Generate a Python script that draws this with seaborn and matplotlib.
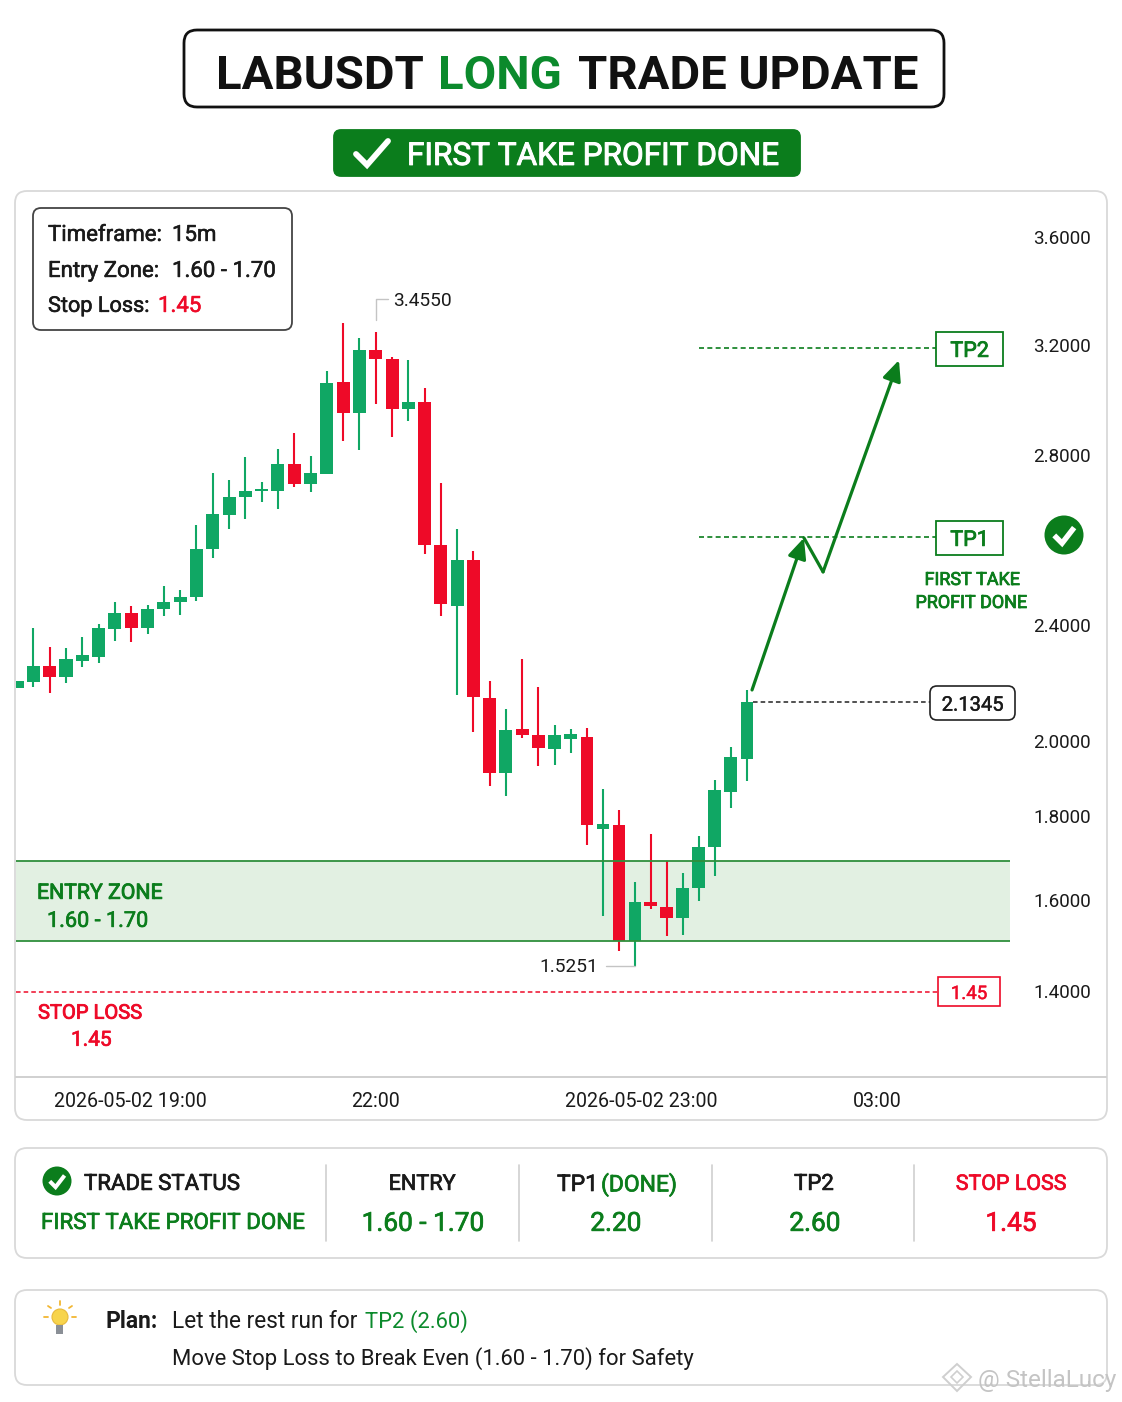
import numpy as np
import pandas as pd
import seaborn as sns
import matplotlib.pyplot as plt
import matplotlib.patheffects as pe
from matplotlib.patches import FancyBboxPatch, Circle, Rectangle, Polygon
from matplotlib.transforms import ScaledTranslation

# candles, one per slot
opens = [2.184, 2.203, 2.259, 2.222, 2.276, 2.291, 2.386, 2.428, 2.389, 2.438, 2.453, 2.465,
         2.579, 2.659, 2.702, 2.715, 2.715, 2.778, 2.732, 2.756, 3.065, 2.953, 3.183, 3.149,
         2.966, 2.993, 2.588, 2.445, 2.552, 2.149, 1.914, 2.042, 2.022, 1.979, 2.008, 2.014,
         1.770, 1.778, 1.510, 1.596, 1.585, 1.560, 1.628, 1.726, 1.864, 1.953]
closes = [2.208, 2.259, 2.222, 2.283, 2.296, 2.390, 2.428, 2.389, 2.438, 2.455, 2.467, 2.579,
          2.660, 2.701, 2.715, 2.720, 2.778, 2.732, 2.757, 3.063, 2.953, 3.183, 3.149, 2.967,
          2.994, 2.589, 2.449, 2.552, 2.150, 1.914, 2.039, 2.021, 1.981, 2.022, 2.023, 1.779,
          1.782, 1.510, 1.595, 1.586, 1.560, 1.628, 1.726, 1.869, 1.956, 2.134]
highs = [2.208, 2.389, 2.325, 2.322, 2.358, 2.402, 2.455, 2.445, 2.447, 2.492, 2.482, 2.635,
         2.758, 2.740, 2.796, 2.737, 2.821, 2.879, 2.798, 3.107, 3.280, 3.227, 3.249, 3.157,
         3.144, 3.045, 2.735, 2.625, 2.574, 2.207, 2.110, 2.284, 2.186, 2.055, 2.040, 2.045,
         1.871, 1.815, 1.642, 1.757, 1.692, 1.665, 1.752, 1.897, 1.983, 2.176]
lows = [2.184, 2.187, 2.167, 2.201, 2.254, 2.268, 2.345, 2.342, 2.368, 2.420, 2.424, 2.456,
        2.558, 2.626, 2.650, 2.690, 2.673, 2.725, 2.712, 2.755, 2.851, 2.818, 2.985, 2.864,
        2.925, 2.568, 2.422, 2.160, 2.031, 1.879, 1.854, 2.011, 1.932, 1.935, 1.968, 1.731,
        1.564, 1.488, 1.455, 1.580, 1.520, 1.524, 1.597, 1.658, 1.822, 1.893]

# axis labels and where the picture puts them (the axis is not linear)
y_ticks = [1.4, 1.6, 1.8, 2.0, 2.4, 2.8, 3.2, 3.6]
y_tick_labels = ["1.4000", "1.6000", "1.8000", "2.0000", "2.4000", "2.8000", "3.2000", "3.6000"]
y_tick_rows = [991, 900, 816, 741, 625, 455, 345, 237]
x_ticks = [6.68, 22.0, 38.0, 53.02]
x_tick_labels = ["2026-05-02 19:00", "22:00", "2026-05-02 23:00", "03:00"]

# levels as they sit against the axis
tp2_level = 3.189
tp1_level = 2.607
last_level = 2.1345
stop_level = 1.398
zone_top = 1.693
zone_bottom = 1.510

# projected path
path_x = [45.31, 48.51, 49.69, 54.37]
path_y = [2.176, 2.605, 2.525, 3.145]

GREEN = "#10a764"
RED = "#ee0a28"
DGREEN = "#0b7d1c"
GREY = "#d9d9d9"
INK = "#1a1a1a"

sns.set_theme(style="white")
plt.rcParams["font.family"] = ["Roboto", "DejaVu Sans"]

W, H = 1122, 1402
fig = plt.figure(figsize=(W / 100, H / 100), dpi=100, facecolor="white")


def px_axes(z):
    a = fig.add_axes([0, 0, 1, 1], zorder=z)
    a.set_xlim(0, W)
    a.set_ylim(H, 0)
    a.axis("off")
    a.patch.set_alpha(0)
    return a


bg = px_axes(0)
ov = px_axes(5)


def panel(a, x0, y0, x1, y1, r=10, ec=GREY, lw=1.3, fc="white"):
    a.add_patch(FancyBboxPatch((x0 + r, y0 + r), x1 - x0 - 2 * r, y1 - y0 - 2 * r,
                               boxstyle=f"round,pad={r},rounding_size={r}", fc=fc, ec=ec, lw=lw))


def label(x, y, s, size, color=INK, ha="left", weight="normal", heavy=0):
    t = ov.text(x, y + size * 0.15, s, fontsize=size, color=color, ha=ha, va="center", fontweight=weight)
    if heavy:
        t.set_path_effects([pe.withStroke(linewidth=heavy, foreground=color)])


def check_badge(a, x, y, r):
    a.add_patch(Circle((x, y), r, fc=DGREEN, ec="none"))
    a.plot([x - r * .5, x - r * .1, x + r * .52], [y + r * .02, y + r * .42, y - r * .38],
           color="white", lw=r * .2, solid_capstyle="butt", solid_joinstyle="miter")


# chart
ax = fig.add_axes([16 / W, 1 - 1077 / H, (1025 - 16) / W, (1077 - 192) / H], zorder=2)
ax.patch.set_alpha(0)

df = pd.DataFrame({"idx": range(len(opens)), "open": opens, "close": closes, "high": highs, "low": lows})
df["bottom"] = df[["open", "close"]].min(axis=1)
df["body"] = (df["close"] - df["open"]).abs()
up = df[df["close"] >= df["open"]]
down = df[df["close"] < df["open"]]

for part, col in [(up, GREEN), (down, RED)]:
    ax.vlines(part["idx"], part["low"], part["high"], color=col, lw=1.5, zorder=2.5)
    sns.barplot(data=part, x="idx", y="body", bottom=part["bottom"].values, native_scale=True,
                color=col, saturation=1, width=0.8, errorbar=None, linewidth=0, zorder=3, ax=ax)

xmin, xmax = -0.068, 62.14
zone_end = 61.2
ax.fill_between([xmin, zone_end], zone_bottom, zone_top, color="#e2f0e2", lw=0, zorder=1)
ax.hlines([zone_top, zone_bottom], xmin, zone_end, color="#2f8f3c", lw=1.3, zorder=3.5)

ax.hlines(tp2_level, 42.04, 56.66, color=DGREEN, lw=1.2, linestyles=(0, (3, 2)))
ax.hlines(tp1_level, 42.04, 56.66, color=DGREEN, lw=1.2, linestyles=(0, (3, 2)))
ax.hlines(last_level, 45.4, 56.3, color="#222222", lw=1.1, linestyles=(0, (3, 2)))
ax.hlines(stop_level, xmin, 56.7, color=RED, lw=1.1, linestyles=(0, (3, 2)))

arrow = dict(arrowstyle="-|>,head_length=0.62,head_width=0.28", color=DGREEN, lw=2.3,
             mutation_scale=20, shrinkA=0, shrinkB=0)
ax.annotate("", xy=(path_x[1], path_y[1]), xytext=(path_x[0], path_y[0]), arrowprops=arrow, zorder=4)
ax.plot(path_x[1:3], path_y[1:3], color=DGREEN, lw=2.3, zorder=4, solid_capstyle="round")
ax.annotate("", xy=(path_x[3], path_y[3]), xytext=(path_x[2], path_y[2]), arrowprops=arrow, zorder=4)

# the axis spacing only fits a piecewise scale
scale_vals = np.array([1.211] + y_ticks + [3.767])
scale_rows = -np.array([1077] + y_tick_rows + [192], dtype=float)
ax.set_yscale("function", functions=(lambda v: np.interp(v, scale_vals, scale_rows),
                                     lambda u: np.interp(u, scale_rows, scale_vals)))
ax.set_ylim(1.211, 3.767)

# candle slots drift a little across the picture too
slot_vals = np.array([xmin, 0, 25, 35, 43, 45, xmax])
slot_cols = np.array([16, 17.1, 424.7, 587, 714.7, 747, 1025])
ax.set_xscale("function", functions=(lambda v: np.interp(v, slot_vals, slot_cols),
                                     lambda u: np.interp(u, slot_cols, slot_vals)))
ax.set_xlim(xmin, xmax)
ax.set(xlabel=None, ylabel=None)
ax.set_yticks(y_ticks)
ax.set_yticklabels(y_tick_labels)
ax.yaxis.tick_right()
ax.tick_params(axis="y", length=0, pad=6, labelsize=13.6, labelcolor=INK)
ax.set_xticks(x_ticks)
ax.set_xticklabels(x_tick_labels)
ax.minorticks_off()
ax.tick_params(axis="x", length=4, width=1, color="#aaaaaa", pad=7, labelsize=14.1, labelcolor=INK)
for lab, shift in zip(ax.get_xticklabels(), [4, 0, 6, 0]):
    lab.set_transform(lab.get_transform() + ScaledTranslation(shift / 100, 0, fig.dpi_scale_trans))
sns.despine(ax=ax, left=True, right=True, top=True, bottom=True)

# panels under the chart
panel(bg, 15, 191, 1107, 1120, r=12)
panel(bg, 15, 1148, 1107, 1258, r=12)
panel(bg, 15, 1290, 1107, 1385, r=12)
ov.plot([16, 1106], [1077, 1077], color="#c8c8c8", lw=1.2)

# header
panel(bg, 184, 30, 944, 107, r=13, ec="#111111", lw=2)
label(216, 71, "LABUSDT", 34, "#111111", weight="bold")
label(438, 71, "LONG", 34, "#0b8a2c", weight="bold")
label(578, 71, "TRADE UPDATE", 34, "#111111", weight="bold")
panel(bg, 334, 130, 800, 176, r=7, ec=DGREEN, fc=DGREEN)
bg.plot([356, 367, 388], [154, 165, 141], color="white", lw=4.2, solid_joinstyle="miter")
label(407, 153, "FIRST TAKE PROFIT DONE", 22.7, "white", heavy=0.7)

# info box
panel(ov, 33, 208, 292, 330, r=8, ec="#444444", lw=1.3)
label(48, 233, "Timeframe:", 16, heavy=0.4)
label(172, 233, "15m", 16, heavy=0.4)
label(48, 269, "Entry Zone:", 16, heavy=0.4)
label(172, 269, "1.60 - 1.70", 16, heavy=0.4)
label(48, 304, "Stop Loss:", 15.6, heavy=0.4)
label(158, 304, "1.45", 16, RED, heavy=0.4)

# leaders and price tags
ov.plot([376, 376, 388], [320, 299, 299], color="#c4c4c4", lw=1)
label(393, 299, "3.4550", 13.8)
ov.plot([606, 635], [966, 966], color="#c4c4c4", lw=1)
label(598, 965, "1.5251", 13.8, ha="right")
label(37, 891, "ENTRY ZONE", 15.3, DGREEN, heavy=0.6)
label(47, 919, "1.60 - 1.70", 15.6, DGREEN, heavy=0.5)
label(38, 1011, "STOP LOSS", 14.5, RED, heavy=0.6)
label(71, 1038, "1.45", 15, RED, heavy=0.5)

for y0, name in [(332, "TP2"), (521, "TP1")]:
    ov.add_patch(Rectangle((936, y0), 67, 34, fc="white", ec=DGREEN, lw=1.3))
    label(969.5, y0 + 17, name, 15.5, DGREEN, ha="center", heavy=0.6)
panel(ov, 930, 686, 1015, 720, r=7, ec="#222222", lw=1.2)
label(972.5, 703, "2.1345", 14.5, ha="center", heavy=0.3)
ov.add_patch(Rectangle((938, 977), 62, 29, fc="white", ec=RED, lw=1.2))
label(969, 992, "1.45", 13.5, RED, ha="center", heavy=0.3)
check_badge(ov, 1064, 535, 19.5)
label(972, 578, "FIRST TAKE", 12.9, DGREEN, ha="center", heavy=0.6)
label(971, 601, "PROFIT DONE", 12.9, DGREEN, ha="center", heavy=0.6)

# status row
for x in [326, 519, 712, 914]:
    ov.plot([x, x], [1165, 1241], color="#cfcfcf", lw=1.2)
check_badge(ov, 57, 1181, 14.5)
label(84, 1182, "TRADE STATUS", 16, heavy=0.5)
label(41, 1221, "FIRST TAKE PROFIT DONE", 16.1, DGREEN, heavy=0.5)
label(422, 1182, "ENTRY", 15.6, ha="center", heavy=0.5)
label(423, 1221, "1.60 - 1.70", 18.9, DGREEN, ha="center", heavy=0.5)
label(557, 1182, "TP1", 16.5, heavy=0.5)
label(601, 1182, "(DONE)", 16.5, DGREEN, heavy=0.5)
label(616, 1221, "2.20", 18.9, DGREEN, ha="center", heavy=0.5)
label(814, 1182, "TP2", 16, ha="center", heavy=0.5)
label(815, 1221, "2.60", 18.9, DGREEN, ha="center", heavy=0.5)
label(1011, 1182, "STOP LOSS", 15.4, RED, ha="center", heavy=0.5)
label(1011, 1221, "1.45", 18.9, RED, ha="center", heavy=0.5)

# plan
ov.add_patch(Circle((60, 1317), 8, fc="#f7d44c", ec="#e8b93a", lw=0.8))
ov.add_patch(Rectangle((56.5, 1325), 7, 9, fc="#8a8f96", ec="none"))
for dx0, dy0, dx1, dy1 in [(-16, 0, -12, 0), (12, 0, 16, 0), (0, -16, 0, -12), (-12, -11, -9, -9), (12, -11, 9, -9)]:
    ov.plot([60 + dx0, 60 + dx1], [1317 + dy0, 1317 + dy1], color="#f2b632", lw=1.3)
label(106, 1319, "Plan:", 16.5, weight="bold")
label(172, 1319, "Let the rest run for", 16.3)
label(365, 1319, "TP2 (2.60)", 15.8, "#0b8a2c")
label(172, 1356, "Move Stop Loss to Break Even (1.60 - 1.70) for Safety", 15.8)

# watermark
ov.add_patch(Polygon([(957, 1364), (971, 1377), (957, 1391), (943, 1377)], fc="none", ec="#cfcfcf", lw=1.4))
ov.add_patch(Polygon([(957, 1371), (963, 1377), (957, 1383), (951, 1377)], fc="none", ec="#cfcfcf", lw=1.2))
label(978, 1378, "@ StellaLucy", 17.5, "#c4c4c4")

fig.savefig("out.png", dpi=100)
